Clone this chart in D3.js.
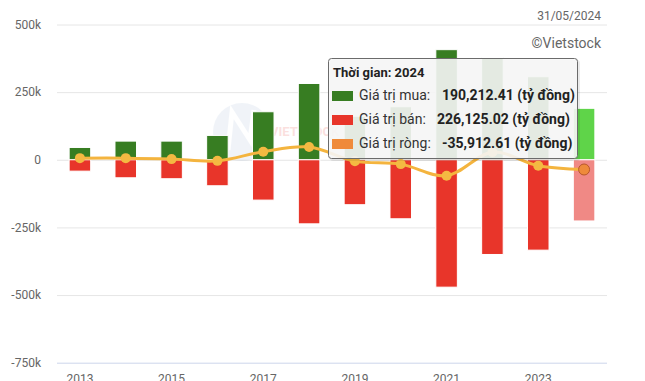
<!DOCTYPE html>
<html><head><meta charset="utf-8">
<script src="https://cdn.jsdelivr.net/npm/d3@7/dist/d3.min.js"></script>
<style>body{margin:0;background:#fff;font-family:Roboto,"Noto Sans",sans-serif;}svg{display:block}</style>
</head><body><svg id="c" width="645" height="381"></svg>
<script>
const years = [2013,2014,2015,2016,2017,2018,2019,2020,2021,2022,2023,2024];
const buyValues  = [45500,69000,69000,90000,177500,282000,161000,196000,407000,378000,307000,190212.41];
const sellValues = [42000,66500,70000,96000,149000,236700,166000,218000,470800,350000,334000,226125.02];
const netValues  = [6000,6000,2500,-4000,30000,47000,-5000,-16000,-59000,28000,-22000,-35912.61];
const yTicks = [500000,250000,0,-250000,-500000,-750000];
const xTickYears = [2013,2015,2017,2019,2021,2023];

const svg = d3.select('#c');
const x = d3.scaleBand().domain(years).range([57,607]).paddingInner(0.53).paddingOuter(0.265);
const y = d3.scaleLinear().domain([-750000,500000]).range([362.7,24.5]);
const fmtK = v => v===0 ? '0' : (v/1000)+'k';

// grid
const yAxis = d3.axisLeft(y).tickValues(yTicks).tickSize(-550).tickFormat(fmtK);
const gy = svg.append('g').attr('transform','translate(57,0)').call(yAxis);
gy.select('.domain').remove();
gy.selectAll('.tick line').attr('stroke','#e6e6e6');
gy.selectAll('.tick').filter(d=>d===-750000).select('line').attr('stroke','#ccd6eb');
gy.selectAll('.tick text').attr('x',-16).attr('fill','#666').style('font-size','12px').style('font-family','Roboto');

// watermark
const wm = svg.append('g').attr('opacity',0.15);
wm.append('circle').attr('cx',242).attr('cy',132).attr('r',29).attr('fill','#9fb6d6');
wm.append('path').attr('d','M228,150 L232,112 L250,140 L254,110').attr('stroke','#fff').attr('stroke-width',5).attr('fill','none');
wm.append('text').attr('x',270).attr('y',136).attr('fill','#e8352a').style('font-size','13px').style('font-weight','bold').style('font-family','Roboto').text('VIETSTOCK');

// x axis labels
const xa = svg.append('g');
xa.selectAll('text').data(xTickYears).join('text')
  .attr('x',d=>x(d)+x.bandwidth()/2).attr('y',383).attr('text-anchor','middle')
  .attr('fill','#666').style('font-size','12px').style('font-family','Roboto').text(d=>d);

const last = years[years.length-1];
// bars
svg.append('g').selectAll('rect').data(years).join('rect')
  .attr('x',d=>x(d)).attr('width',x.bandwidth())
  .attr('y',(d,i)=>y(buyValues[i])).attr('height',(d,i)=>y(0)-y(buyValues[i]))
  .attr('fill',d=>d===last?'#5fd449':'#377d22').attr('stroke','#fff').attr('stroke-width',1);
svg.append('g').selectAll('rect').data(years).join('rect')
  .attr('x',d=>x(d)).attr('width',x.bandwidth())
  .attr('y',y(0)).attr('height',(d,i)=>y(-sellValues[i])-y(0))
  .attr('fill',d=>d===last?'#f08985':'#e8352a').attr('stroke','#fff').attr('stroke-width',1);

// net line
const cx = d=>x(d)+x.bandwidth()/2;
const line = d3.line().x((d,i)=>cx(years[i])).y(d=>y(d)).curve(d3.curveCatmullRom.alpha(0.5));
svg.append('path').datum(netValues).attr('d',line).attr('fill','none').attr('stroke','#f4b43e').attr('stroke-width',3);
svg.append('g').selectAll('circle').data(netValues).join('circle')
  .attr('cx',(d,i)=>cx(years[i])).attr('cy',d=>y(d)).attr('r',(d,i)=>years[i]===last?5.5:5)
  .attr('fill',(d,i)=>years[i]===last?'#ee8a3b':'#f4b942')
  .attr('stroke',(d,i)=>years[i]===last?'#b8562a':'none').attr('stroke-width',1);

// header texts
svg.append('text').attr('x',601).attr('y',20).attr('text-anchor','end').attr('fill','#666').style('font-size','12px').text('31/05/2024');
svg.append('text').attr('x',601).attr('y',48).attr('text-anchor','end').attr('fill','#666').style('font-size','14px').text('©Vietstock');

// tooltip
const tt = svg.append('g');
tt.append('rect').attr('x',330).attr('y',60).attr('width',250).attr('height',101).attr('rx',3).attr('fill','rgba(0,0,0,0.08)');
tt.append('rect').attr('x',328.5).attr('y',58.5).attr('width',249).attr('height',100).attr('rx',3)
  .attr('fill','rgba(247,247,247,0.9)').attr('stroke','#6b6b6b').attr('stroke-width',1);
tt.append('text').attr('x',333).attr('y',77).attr('fill','#222').style('font-size','13px').style('font-weight','bold').text('Thời gian: '+last);
const rows = [
  {label:'Giá trị mua:', val:buyValues[11], color:'#377d22', vx:442},
  {label:'Giá trị bán:', val:sellValues[11], color:'#e8352a', vx:437},
  {label:'Giá trị ròng:', val:netValues[11], color:'#ef8a3a', vx:442}
];
const nf = d3.format(',.2f');
rows.forEach((r,i)=>{
  const by = 100 + i*24;
  tt.append('rect').attr('x',332).attr('y',by-9).attr('width',21).attr('height',10).attr('fill',r.color);
  tt.append('text').attr('x',359).attr('y',by).attr('fill','#333').style('font-size','14px').text(r.label);
  tt.append('text').attr('x',r.vx).attr('y',by).attr('fill','#222').style('font-size','14px').style('font-weight','bold').text(nf(r.val).replace('−','-')+' (tỷ đồng)');
});
</script></body></html>
